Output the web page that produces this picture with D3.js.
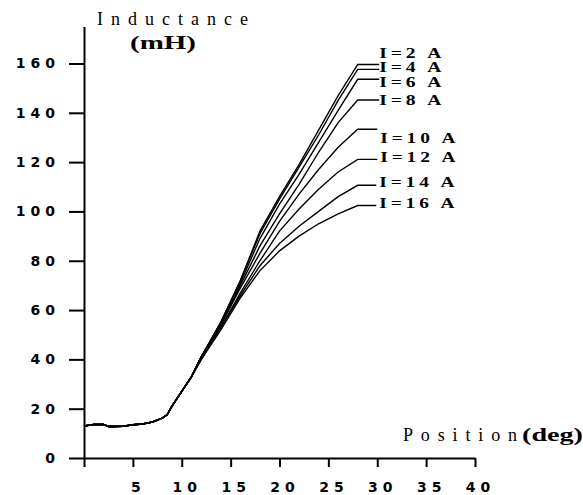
<!DOCTYPE html>
<html>
<head>
<meta charset="utf-8">
<script src="https://cdn.jsdelivr.net/npm/d3@7"></script>
<style>
  body { margin: 0; background: #fff; }
  svg { display: block; }
  .axis path, .axis line { stroke: #000; stroke-width: 2; }
  .axis text { font-family: "DejaVu Sans", sans-serif; font-weight: bold; font-size: 14px; fill: #000; }
  .curve { fill: none; stroke: #000; stroke-width: 1.4; }
</style>
</head>
<body>
<svg width="583" height="495"></svg>
<script>
// Inductance (mH) against rotor position (deg) for several currents

// part shared by all the currents (low angles)
var basePos = [0, 1, 2, 2.5, 3, 4, 5, 6, 7, 8, 8.5, 9, 10, 11];
var baseVal = [13, 13.6, 13.6, 12.8, 12.8, 12.9, 13.5, 13.8, 14.6, 16.2, 17.5, 21, 27, 33];

// after 12 deg the curves split up
var splitPos = [12, 14, 16, 18, 20, 22, 24, 26, 28];
var currents = ["I=2 A", "I=4 A", "I=6 A", "I=8 A", "I=10 A", "I=12 A", "I=14 A", "I=16 A"];
var i2  = [41, 55, 72, 92, 106, 119, 133, 147, 159.6];
var i4  = [41, 55, 72, 91, 105, 118, 131, 145, 157.6];
var i6  = [41, 55, 71, 89, 103, 115, 128, 141, 153.6];
var i8  = [41, 54, 70, 86, 99, 111, 124, 136, 145.2];
var i10 = [41, 54, 69, 83, 96, 107, 117, 126, 133.3];
var i12 = [41, 53, 67, 80, 92, 101, 109, 116, 121.1];
var i14 = [40, 53, 66, 78, 87, 94, 100, 106, 110.6];
var i16 = [40, 52, 65, 76, 84, 90, 95, 99, 102.4];

// end of the leader line, and where each label sits (mH)
var leaderEnd = [30.2, 30.2, 30.2, 30.2, 30.0, 30.0, 29.9, 29.9];
var labelLevel = [164.4, 158.7, 152.6, 145.2, 129.8, 122.2, 112.1, 103.3];

var yTicks = [0, 20, 40, 60, 80, 100, 120, 140, 160];
var xTicks = [0, 5, 10, 15, 20, 25, 30, 35, 40];

var series = [i2, i4, i6, i8, i10, i12, i14, i16];

var data = series.map(function(vals, k) {
  var pts = basePos.map(function(p, j) { return { pos: p, val: baseVal[j] }; });
  splitPos.forEach(function(p, j) { pts.push({ pos: p, val: vals[j] }); });
  pts.push({ pos: leaderEnd[k], val: vals[vals.length - 1] });
  return { name: currents[k], values: pts, label: labelLevel[k], end: leaderEnd[k] };
});

var svg = d3.select("svg");

var x = d3.scaleLinear().domain([0, 40]).range([84, 475]);
var y = d3.scaleLinear().domain([0, 175]).range([458, 26.5]);

var line = d3.line()
  .curve(d3.curveLinear)
  .x(function(d) { return x(d.pos); })
  .y(function(d) { return y(d.val); });

// y axis
var gy = svg.append("g")
  .attr("class", "axis")
  .attr("transform", "translate(" + x(0) + ",0)")
  .call(d3.axisLeft(y).tickValues(yTicks).tickSize(15).tickSizeOuter(0).tickPadding(9));
gy.selectAll("text").style("letter-spacing", "5px");

// x axis
var gx = svg.append("g")
  .attr("class", "axis")
  .attr("transform", "translate(0," + y(0) + ")")
  .call(d3.axisBottom(x).tickValues(xTicks).tickSize(9).tickSizeOuter(0).tickPadding(15)
        .tickFormat(function(d) { return d === 0 ? "" : d; }));
gx.selectAll("text").style("letter-spacing", "5px").attr("dx", "5px");

// curves
svg.selectAll(".curve")
  .data(data)
  .enter().append("path")
    .attr("class", "curve")
    .attr("d", function(d) { return line(d.values); });

// curve labels
svg.selectAll(".lbl")
  .data(data)
  .enter().append("text")
    .attr("class", "lbl")
    .attr("x", function(d) { return x(d.end) + (d.name.length > 5 ? 3 : 0); })
    .attr("y", function(d) { return y(d.label); })
    .attr("dy", "0.34em")
    .attr("textLength", function(d) { return d.name.length > 5 ? 79 : 66; })
    .attr("lengthAdjust", "spacingAndGlyphs")
    .style("letter-spacing", "3px")
    .style("font-family", "Liberation Serif, serif")
    .style("font-weight", "bold")
    .style("font-size", "15px")
    .text(function(d) { return d.name; });

// axis titles
svg.append("text")
  .attr("x", 97).attr("y", 25)
  .attr("textLength", 151).attr("lengthAdjust", "spacing")
  .style("font-family", "Liberation Serif, serif")
  .style("font-size", "18px")
  .text("Inductance");

svg.append("text")
  .attr("x", 130).attr("y", 49)
  .attr("textLength", 66).attr("lengthAdjust", "spacingAndGlyphs")
  .style("font-family", "Liberation Serif, serif")
  .style("font-weight", "bold")
  .style("font-size", "19px")
  .text("(mH)");

svg.append("text")
  .attr("x", 403).attr("y", 441)
  .attr("textLength", 114).attr("lengthAdjust", "spacing")
  .style("font-family", "Liberation Serif, serif")
  .style("font-size", "18px")
  .text("Position");

svg.append("text")
  .attr("x", 522).attr("y", 441)
  .attr("textLength", 61).attr("lengthAdjust", "spacingAndGlyphs")
  .style("font-family", "Liberation Serif, serif")
  .style("font-weight", "bold")
  .style("font-size", "19px")
  .text("(deg)");
</script>
</body>
</html>
